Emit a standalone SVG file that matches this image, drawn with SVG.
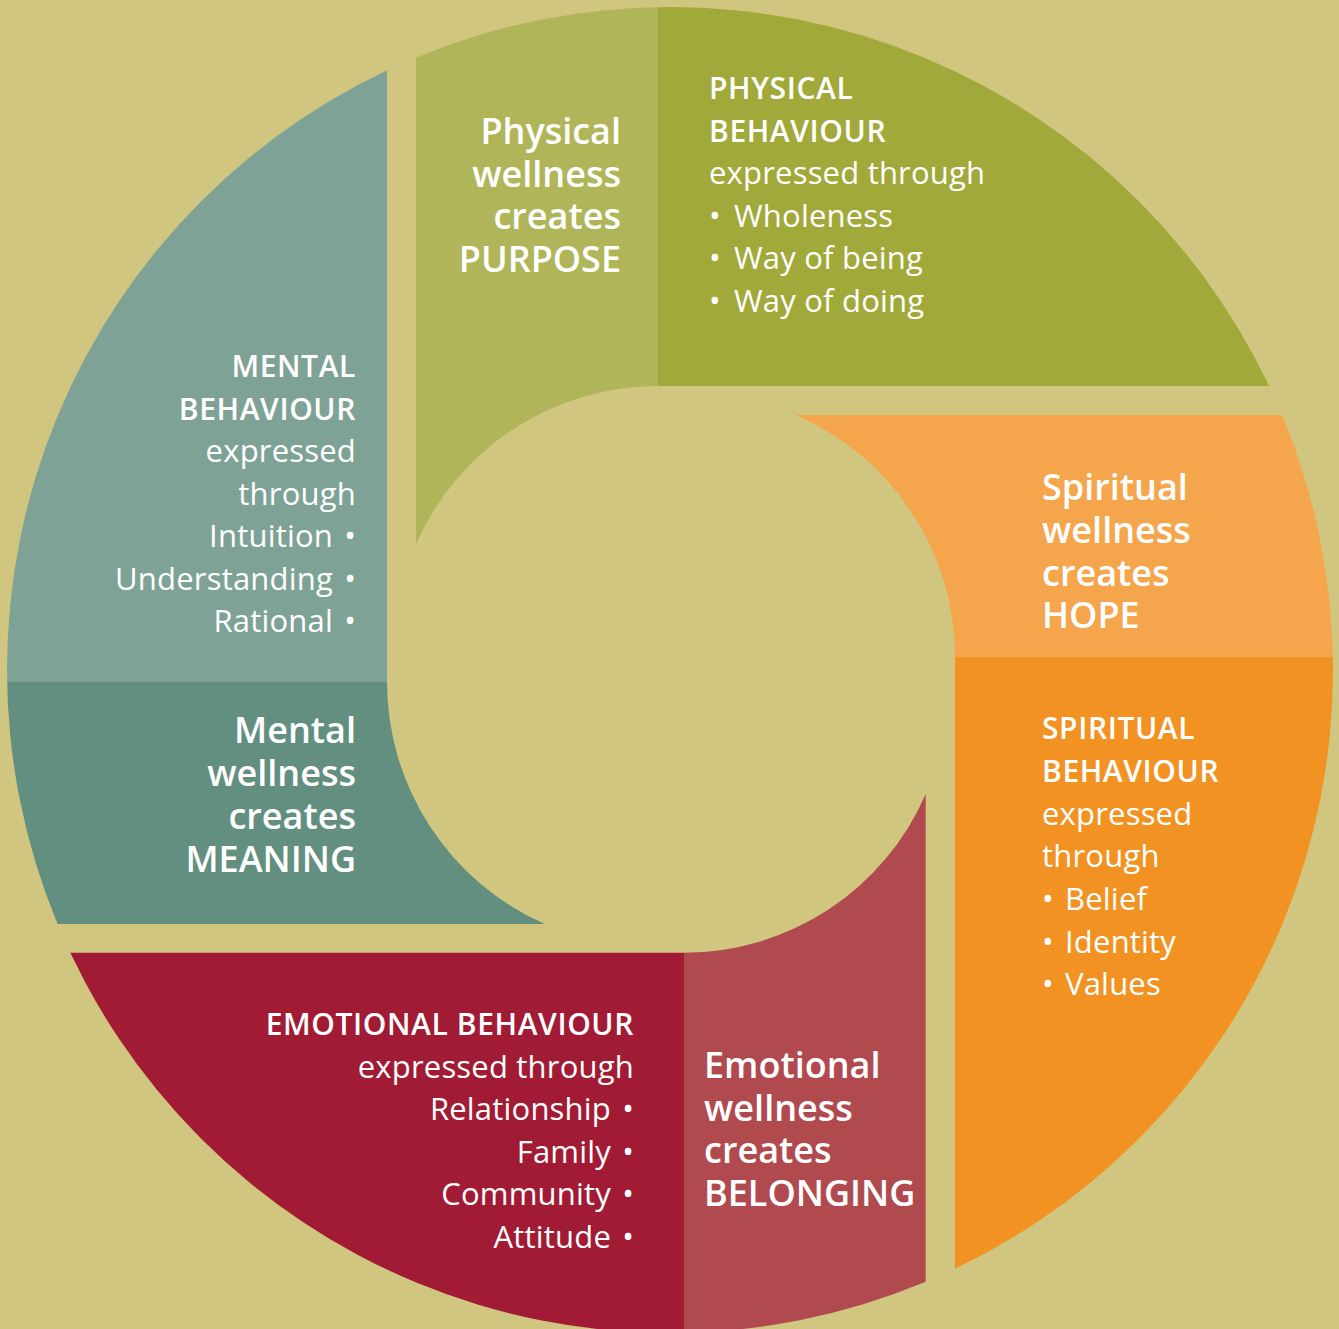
<svg xmlns="http://www.w3.org/2000/svg" width="1339" height="1329" viewBox="0 0 1339 1329">
<defs>
<clipPath id="ring"><circle cx="670" cy="670" r="663"/></clipPath>
<style>
text{font-family:"Open Sans","Noto Sans","Liberation Sans",sans-serif;fill:#ffffff;}
.title{font-size:36px;font-weight:600;}
.cap{font-size:30px;font-weight:600;letter-spacing:0.6px;}
.body{font-size:31px;font-weight:400;letter-spacing:0.2px;}
.end{text-anchor:end;}
</style>
</defs>
<rect x="0" y="0" width="1339" height="1329" fill="#D0C67F"/>
<g clip-path="url(#ring)">
<g id="physical">
<path d="M416,-10 L416,544 A264.3 264.3 0 0 1 658,386 L658,-10 Z" fill="#B1B55A"/>
<path d="M658,-10 L658,386 L1400,386 L1400,-10 Z" fill="#A1A93A"/>
</g>
<g id="spiritual">
<path d="M795.7,415 A263.5 263.5 0 0 1 955,657 L1400,657 L1400,415 Z" fill="#F5A64C"/>
<path d="M955,657 L955,1400 L1400,1400 L1400,657 Z" fill="#F29222"/>
</g>
<g id="emotional">
<path d="M925.7,794 A263.4 263.4 0 0 1 684,952.7 L684,1400 L925.7,1400 Z" fill="#B04A4F"/>
<path d="M684,952.7 L-10,952.7 L-10,1400 L684,1400 Z" fill="#A11B34"/>
</g>
<g id="mental">
<path d="M387,-10 L387,682 L-10,682 L-10,-10 Z" fill="#7FA296"/>
<path d="M387,682 A264.3 264.3 0 0 0 545,924 L-10,924 L-10,682 Z" fill="#628F80"/>
</g>
</g>
<g id="physical-text">
<text class="title end"><tspan x="621" y="144">Physical</tspan><tspan x="621" y="186.5">wellness</tspan><tspan x="621" y="229">creates</tspan><tspan x="621" y="271.5">PURPOSE</tspan></text>
<text class="cap"><tspan x="709" y="99">PHYSICAL</tspan><tspan x="709" y="141.5">BEHAVIOUR</tspan></text>
<text class="body"><tspan x="709" y="184">expressed through</tspan><tspan x="709" y="226.5">•</tspan><tspan x="734" y="226.5">Wholeness</tspan><tspan x="709" y="269">•</tspan><tspan x="734" y="269">Way of being</tspan><tspan x="709" y="311.5">•</tspan><tspan x="734" y="311.5">Way of doing</tspan></text>
</g>
<g id="mental-text">
<text class="cap end"><tspan x="356" y="377">MENTAL</tspan><tspan x="356" y="419.5">BEHAVIOUR</tspan></text>
<text class="body end"><tspan x="356" y="462">expressed</tspan><tspan x="356" y="504.5">through</tspan><tspan x="333" y="547">Intuition</tspan><tspan x="356" y="547">•</tspan><tspan x="333" y="589.5">Understanding</tspan><tspan x="356" y="589.5">•</tspan><tspan x="333" y="632">Rational</tspan><tspan x="356" y="632">•</tspan></text>
<text class="title end"><tspan x="356" y="743">Mental</tspan><tspan x="356" y="786">wellness</tspan><tspan x="356" y="829">creates</tspan><tspan x="356" y="872">MEANING</tspan></text>
</g>
<g id="spiritual-text">
<text class="title"><tspan x="1042" y="500">Spiritual</tspan><tspan x="1042" y="543">wellness</tspan><tspan x="1042" y="585.5">creates</tspan><tspan x="1042" y="628">HOPE</tspan></text>
<text class="cap"><tspan x="1042" y="739">SPIRITUAL</tspan><tspan x="1042" y="782">BEHAVIOUR</tspan></text>
<text class="body"><tspan x="1042" y="824.5">expressed</tspan><tspan x="1042" y="867">through</tspan><tspan x="1042" y="910">•</tspan><tspan x="1065" y="910">Belief</tspan><tspan x="1042" y="952.5">•</tspan><tspan x="1065" y="952.5">Identity</tspan><tspan x="1042" y="995">•</tspan><tspan x="1065" y="995">Values</tspan></text>
</g>
<g id="emotional-text">
<text class="cap end"><tspan x="634" y="1035">EMOTIONAL BEHAVIOUR</tspan></text>
<text class="body end"><tspan x="634" y="1077.5">expressed through</tspan><tspan x="611" y="1120">Relationship</tspan><tspan x="634" y="1120">•</tspan><tspan x="611" y="1162.5">Family</tspan><tspan x="634" y="1162.5">•</tspan><tspan x="611" y="1205">Community</tspan><tspan x="634" y="1205">•</tspan><tspan x="611" y="1247.5">Attitude</tspan><tspan x="634" y="1247.5">•</tspan></text>
<text class="title"><tspan x="704" y="1078">Emotional</tspan><tspan x="704" y="1120.5">wellness</tspan><tspan x="704" y="1163">creates</tspan><tspan x="704" y="1205.5">BELONGING</tspan></text>
</g>
</svg>
